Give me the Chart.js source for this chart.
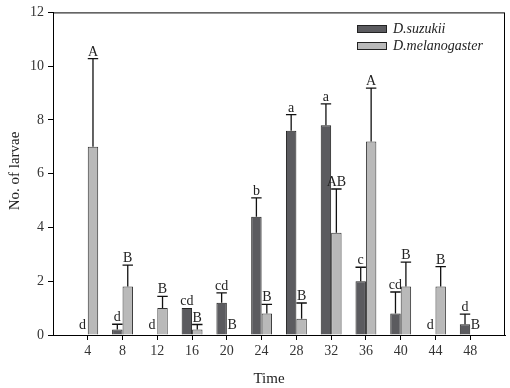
<!DOCTYPE html>
<html>
<head>
<meta charset="utf-8">
<script src="https://cdn.jsdelivr.net/npm/chart.js@4.4.1/dist/chart.umd.min.js"></script>
<style>
  html, body { margin: 0; padding: 0; background: #fff; }
  #wrap { width: 510px; height: 388px; }
</style>
</head>
<body>
<div id="wrap"><canvas id="larvaeChart"></canvas></div>
<script>
// time points (h); 0 and 52 only pad the axis ends
const timeLabels = ["0", "4", "8", "12", "16", "20", "24", "28", "32", "36", "40", "44", "48", "52"];

const suzukiiMean = [null, 0, 0.2, 0, 1.0, 1.2, 4.4, 7.6, 7.8, 2.0, 0.8, 0, 0.4, null];
const suzukiiErr = [0, 0, 0.2, 0, 0, 0.37, 0.7, 0.6, 0.8, 0.52, 0.8, 0, 0.38, 0];
const suzukiiLetters = ["", "d", "d", "d", "cd", "cd", "b", "a", "a", "c", "cd", "d", "d", ""];

const melanoMean = [null, 7.0, 1.8, 1.0, 0.2, 0, 0.8, 0.6, 3.8, 7.2, 1.8, 1.8, 0, null];
const melanoErr = [0, 3.28, 0.8, 0.44, 0.19, 0, 0.34, 0.59, 1.63, 1.98, 0.91, 0.74, 0, 0];
const melanoLetters = ["", "A", "B", "B", "B", "B", "B", "B", "AB", "A", "B", "B", "B", ""];

const yTicks = [0, 2, 4, 6, 8, 10, 12];

const serif = "'Liberation Serif', 'DejaVu Serif', serif";
const errs = [suzukiiErr, melanoErr];
const letters = [suzukiiLetters, melanoLetters];

const extrasPlugin = {
    id: "extras",
    afterDatasetsDraw(chart) {
        const ctx = chart.ctx;
        const y = chart.scales.y;
        const area = chart.chartArea;
        ctx.save();

        // frame around plot
        ctx.strokeStyle = "#000";
        ctx.lineWidth = 1;
        ctx.strokeRect(area.left + 0.5, area.top + 0.5, area.right - area.left - 1, area.bottom - area.top);

        chart.data.datasets.forEach((ds, di) => {
            const meta = chart.getDatasetMeta(di);
            meta.data.forEach((bar, i) => {
                const v = ds.data[i];
                if (v === null || v === undefined) return;
                const e = errs[di][i];
                let topPx = y.getPixelForValue(v);
                if (e > 0) {
                    const ePx = y.getPixelForValue(v + e);
                    const half = bar.width / 2;
                    ctx.strokeStyle = "#111";
                    ctx.lineWidth = 1.3;
                    ctx.beginPath();
                    ctx.moveTo(bar.x, topPx);
                    ctx.lineTo(bar.x, ePx);
                    ctx.moveTo(bar.x - half, ePx);
                    ctx.lineTo(bar.x + half, ePx);
                    ctx.stroke();
                    topPx = ePx;
                }
                const txt = letters[di][i];
                if (txt) {
                    ctx.fillStyle = "#222";
                    ctx.font = "14px " + serif;
                    ctx.textAlign = "center";
                    ctx.textBaseline = "alphabetic";
                    const gap = v === 0 ? 6 : 3;
                    ctx.fillText(txt, bar.x, topPx - gap);
                }
            });
        });

        // legend
        chart.data.datasets.forEach((ds, di) => {
            const by = 25 + di * 17;
            ctx.fillStyle = ds.backgroundColor;
            ctx.fillRect(357, by, 30, 8);
            ctx.strokeStyle = "#222";
            ctx.lineWidth = 1;
            ctx.strokeRect(357.5, by + 0.5, 29, 7);
            ctx.fillStyle = "#222";
            ctx.font = "italic 14px " + serif;
            ctx.textAlign = "left";
            ctx.textBaseline = "middle";
            ctx.fillText(ds.label, 393, by + 4);
        });

        // axis titles
        ctx.fillStyle = "#222";
        ctx.font = "15px " + serif;
        ctx.textAlign = "center";
        ctx.textBaseline = "middle";
        ctx.fillText("Time", 269, 379);
        ctx.translate(15, 171);
        ctx.rotate(-Math.PI / 2);
        ctx.fillText("No. of larvae", 0, 0);
        ctx.restore();
    }
};

new Chart(document.getElementById("larvaeChart"), {
    type: "bar",
    data: {
        labels: timeLabels,
        datasets: [
            {
                label: "D.suzukii",
                data: suzukiiMean,
                backgroundColor: "#5b5b5f",
                borderColor: "#222",
                borderWidth: 1
            },
            {
                label: "D.melanogaster",
                data: melanoMean,
                backgroundColor: "#b9b9b9",
                borderColor: "#333",
                borderWidth: 1
            }
        ]
    },
    options: {
        responsive: true,
        maintainAspectRatio: false,
        animation: false,
        layout: { padding: { left: 0, right: 5, top: 9, bottom: 0 } },
        datasets: { bar: { barPercentage: 1, categoryPercentage: 0.6 } },
        plugins: {
            legend: { display: false },
            tooltip: { enabled: false }
        },
        scales: {
            x: {
                offset: false,
                afterFit: s => { s.height = 53; },
                grid: {
                    offset: false,
                    drawOnChartArea: false,
                    tickLength: 5,
                    color: c => (c.index === 0 || c.index === timeLabels.length - 1) ? "rgba(0,0,0,0)" : "#000"
                },
                border: { color: "#000", width: 1 },
                ticks: {
                    color: "#333",
                    font: { family: serif, size: 14 },
                    padding: 3,
                    maxRotation: 0,
                    autoSkip: false,
                    callback: (v, i) => (i === 0 || i === timeLabels.length - 1) ? "" : timeLabels[i]
                }
            },
            y: {
                min: 0,
                max: 12,
                afterFit: s => { s.width = 53; },
                afterBuildTicks: s => { s.ticks = yTicks.map(v => ({ value: v })); },
                grid: { drawOnChartArea: false, tickLength: 5, color: "#000" },
                border: { color: "#000", width: 1 },
                ticks: {
                    color: "#333",
                    font: { family: serif, size: 14 },
                    padding: 4
                }
            }
        }
    },
    plugins: [extrasPlugin]
});
</script>
</body>
</html>
